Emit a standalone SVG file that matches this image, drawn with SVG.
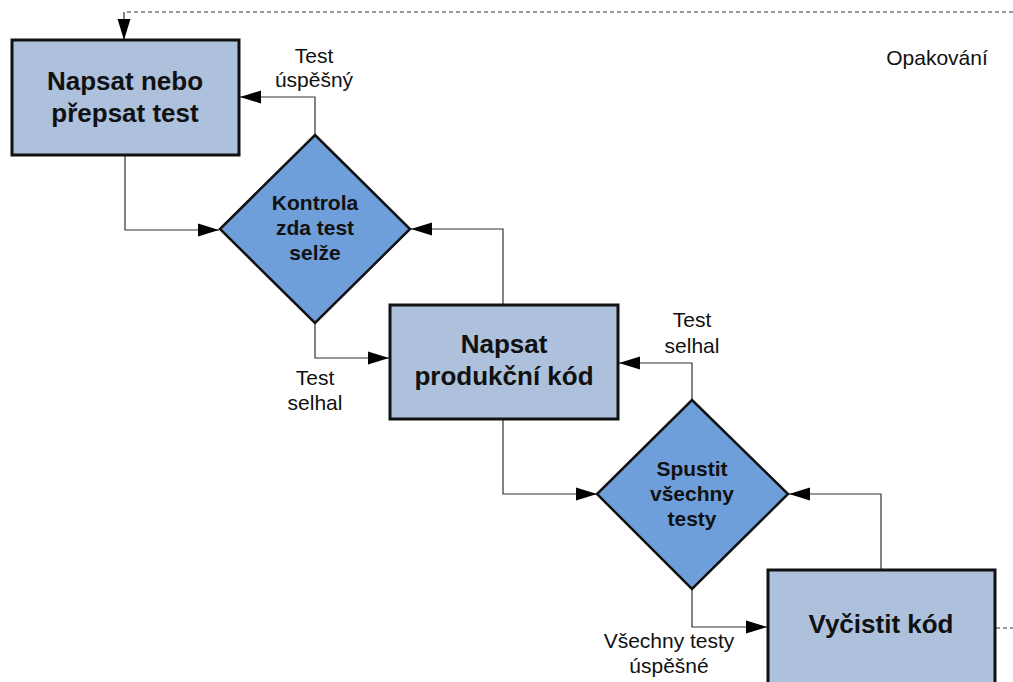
<svg xmlns="http://www.w3.org/2000/svg" width="1013" height="682" viewBox="0 0 1013 682">
<style>
.box{fill:#adc1dc;stroke:#111;stroke-width:3}
.dia{fill:#6f9fdb;stroke:#111;stroke-width:2.5}
.bt{font-family:"Liberation Sans",Arial,sans-serif;font-weight:bold;font-size:26px;fill:#111;text-anchor:middle}
.dt{font-family:"Liberation Sans",Arial,sans-serif;font-weight:bold;font-size:21px;fill:#111;text-anchor:middle}
.lt{font-family:"Liberation Sans",Arial,sans-serif;font-size:21px;fill:#111;text-anchor:middle}
.c{fill:none;stroke:#333;stroke-width:1.2;marker-end:url(#ah)}
.d{fill:none;stroke:#333;stroke-width:1.2;stroke-dasharray:4 3}
</style>
<defs>
<marker id="ah" markerUnits="userSpaceOnUse" markerWidth="22" markerHeight="14" refX="21" refY="7" orient="auto">
<path d="M0,0.5 L21,7 L0,13.5 z" fill="#000"/>
</marker>
</defs>
<rect width="1013" height="682" fill="#fff"/>
<g id="connectors">
<path class="d" d="M1013,12 H124"/>
<path class="c" d="M124,12 V40"/>
<path class="c" d="M315,135 V97 H240"/>
<path class="c" d="M125,155 V230 H219"/>
<path class="c" d="M503,305 V229 H411"/>
<path class="c" d="M315,323 V358 H389"/>
<path class="c" d="M692,400 V363 H619"/>
<path class="c" d="M503,419 V494 H597"/>
<path class="c" d="M881,570 V494 H789"/>
<path class="c" d="M692,589 V627 H767"/>
<path class="d" d="M996,628 H1013"/>
</g>
<g id="labels">
<text class="lt" x="314" y="63">Test</text>
<text class="lt" x="314" y="87">úspěšný</text>
<text class="lt" x="315" y="385">Test</text>
<text class="lt" x="315" y="410">selhal</text>
<text class="lt" x="692" y="327">Test</text>
<text class="lt" x="692" y="353">selhal</text>
<text class="lt" x="669" y="648">Všechny testy</text>
<text class="lt" x="669" y="673">úspěšné</text>
<text class="lt" x="937" y="65">Opakování</text>
</g>
<g id="n1">
<rect class="box" x="12" y="40" width="227" height="115"/>
<text class="bt" x="125" y="90">Napsat nebo</text>
<text class="bt" x="125" y="122">přepsat test</text>
</g>
<g id="n2">
<path class="dia" d="M315,135 L410,229 L315,323 L220,229 Z"/>
<text class="dt" x="315" y="210">Kontrola</text>
<text class="dt" x="315" y="235">zda test</text>
<text class="dt" x="315" y="260">selže</text>
</g>
<g id="n3">
<rect class="box" x="390" y="305" width="228" height="114"/>
<text class="bt" x="504" y="353">Napsat</text>
<text class="bt" x="504" y="385">produkční kód</text>
</g>
<g id="n4">
<path class="dia" d="M692,400 L788,494 L692,589 L597,494 Z"/>
<text class="dt" x="692" y="476">Spustit</text>
<text class="dt" x="692" y="501">všechny</text>
<text class="dt" x="692" y="526">testy</text>
</g>
<g id="n5">
<rect class="box" x="768" y="570" width="227" height="114"/>
<text class="bt" x="881" y="633">Vyčistit kód</text>
</g>
</svg>
